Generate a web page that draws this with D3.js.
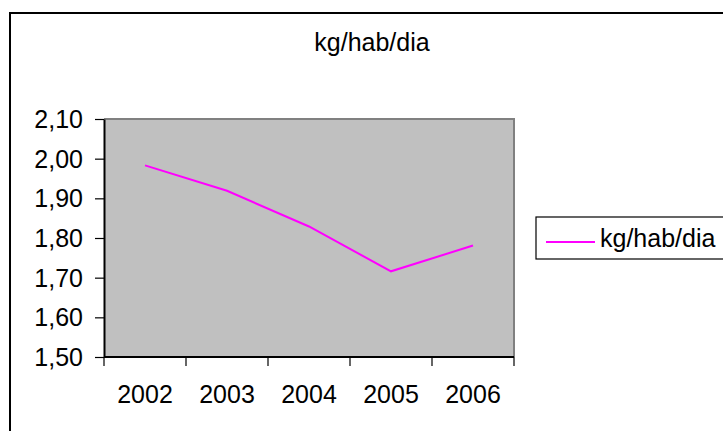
<!DOCTYPE html>
<html>
<head>
<meta charset="utf-8">
<script src="https://cdn.jsdelivr.net/npm/d3@7"></script>
<style>
  html, body { margin: 0; padding: 0; background: #fff; }
  svg { display: block; }
  text { font-family: Arial, "Liberation Sans", sans-serif; fill: #000; }
</style>
</head>
<body>
<svg id="chart" width="723" height="431"></svg>
<script>
const categories = ["2002", "2003", "2004", "2005", "2006"];
const values = [1.983, 1.919, 1.829, 1.716, 1.781];
const yTicks = [1.5, 1.6, 1.7, 1.8, 1.9, 2.0, 2.1];
const seriesName = "kg/hab/dia";
const titleText = "kg/hab/dia";

const svg = d3.select("#chart");
const W = 723, H = 431;
const plot = { left: 104, right: 514, top: 119, bottom: 357 };

// outer chart frame (extends past the right and bottom edges)
svg.append("rect")
  .attr("x", 10).attr("y", 13)
  .attr("width", W + 20).attr("height", H + 20)
  .attr("fill", "#fff").attr("stroke", "#000").attr("stroke-width", 2);

// title
svg.append("text")
  .attr("x", 372).attr("y", 51)
  .attr("text-anchor", "middle")
  .attr("font-size", 25)
  .text(titleText);

const x = d3.scaleBand().domain(categories).range([plot.left, plot.right]).padding(0);
const y = d3.scaleLinear().domain([1.5, 2.1]).range([plot.bottom, plot.top]);

// plot area
svg.append("rect")
  .attr("x", plot.left).attr("y", plot.top)
  .attr("width", plot.right - plot.left).attr("height", plot.bottom - plot.top)
  .attr("fill", "#c0c0c0");
svg.append("path")
  .attr("d", `M${plot.left},${plot.top}H${plot.right}V${plot.bottom}`)
  .attr("fill", "none").attr("stroke", "#808080").attr("stroke-width", 2);

const fmt = v => d3.format(".2f")(v).replace(".", ",");

// y axis
const yAxis = svg.append("g")
  .attr("transform", `translate(${plot.left},0)`)
  .call(d3.axisLeft(y).tickValues(yTicks).tickFormat(fmt).tickSize(9).tickSizeOuter(0).tickPadding(12));
yAxis.select(".domain").attr("stroke", "#000").attr("stroke-width", 2);
yAxis.selectAll(".tick line").attr("stroke", "#000").attr("stroke-width", 1.2);
yAxis.selectAll(".tick text").attr("font-size", 25).attr("font-family", "Arial, 'Liberation Sans', sans-serif").attr("dy", "0.34em");

// x axis: ticks at category boundaries
const boundaries = categories.map(c => x(c)).concat([plot.right]);
const xg = svg.append("g").attr("transform", `translate(0,${plot.bottom})`);
xg.append("line")
  .attr("x1", plot.left).attr("x2", plot.right)
  .attr("stroke", "#000").attr("stroke-width", 2);
xg.selectAll("line.tk").data(boundaries).join("line")
  .attr("class", "tk")
  .attr("x1", d => d).attr("x2", d => d)
  .attr("y1", 0).attr("y2", 9)
  .attr("stroke", "#000").attr("stroke-width", 1.2);
xg.selectAll("text").data(categories).join("text")
  .attr("x", d => x(d) + x.bandwidth() / 2)
  .attr("y", 46)
  .attr("text-anchor", "middle")
  .attr("font-size", 25)
  .text(d => d);

// series line
const line = d3.line()
  .x((d, i) => x(categories[i]) + x.bandwidth() / 2)
  .y(d => y(d));
svg.append("path")
  .datum(values)
  .attr("d", line)
  .attr("fill", "none")
  .attr("stroke", "#ff00ff")
  .attr("stroke-width", 2);

// legend (box extends past right edge)
const lg = svg.append("g");
lg.append("rect")
  .attr("x", 536).attr("y", 217)
  .attr("width", 200).attr("height", 42)
  .attr("fill", "#fff").attr("stroke", "#000").attr("stroke-width", 1.2);
lg.append("line")
  .attr("x1", 546).attr("x2", 595)
  .attr("y1", 242).attr("y2", 242)
  .attr("stroke", "#ff00ff").attr("stroke-width", 2);
lg.append("text")
  .attr("x", 600).attr("y", 247)
  .attr("font-size", 25)
  .text(seriesName);
</script>
</body>
</html>
